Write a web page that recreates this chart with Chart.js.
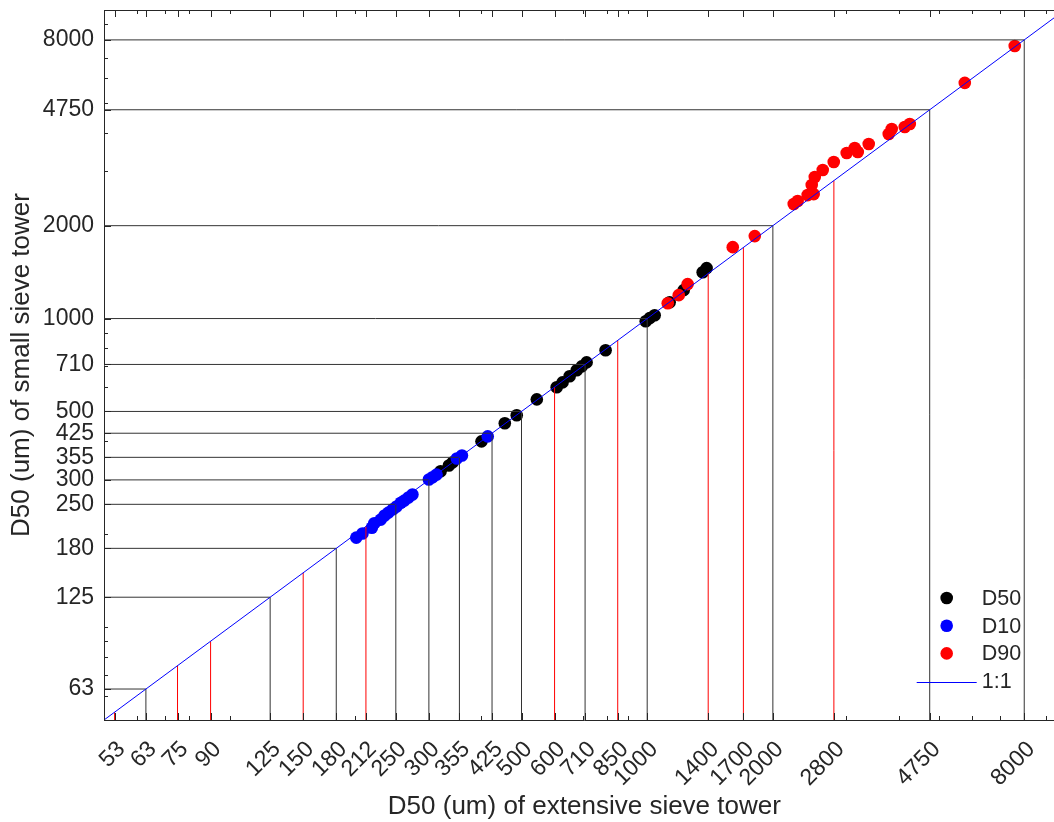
<!DOCTYPE html>
<html>
<head>
<meta charset="utf-8">
<script src="https://cdn.jsdelivr.net/npm/chart.js@4.4.1/dist/chart.umd.min.js"></script>
<style>
  html, body { margin: 0; padding: 0; background: #fff; overflow: hidden; }
  #wrap { width: 1054px; height: 822px; overflow: hidden; }
</style>
</head>
<body>
<div id="wrap"><canvas id="chart" width="1066" height="822"></canvas></div>
<script>
// sieve sizes (um)
const xTickValues = [53, 63, 75, 90, 125, 150, 180, 212, 250, 300, 355, 425, 500, 600, 710, 850, 1000, 1400, 1700, 2000, 2800, 4750, 8000];
const yTickValues = [63, 125, 180, 250, 300, 355, 425, 500, 710, 1000, 2000, 4750, 8000];
// sieves only in the extensive tower -> red guide lines
const extraSieves = [53, 75, 90, 150, 212, 600, 850, 1400, 1700, 2800];

// D50 results: extensive tower (x) vs small tower (y)
const d50Ext   = [320, 335, 342, 401, 456, 487, 544, 607, 627, 652, 678, 697, 716, 795, 992, 1014, 1042, 1132, 1223, 1358, 1388];
const d50Small = [320, 334, 342, 400, 458, 486, 547, 599, 621, 650, 680, 700, 721, 789, 980, 1003, 1025, 1130, 1236, 1413, 1457];

const d10Ext   = [201, 208, 219, 222, 230, 235, 240, 246, 251, 257, 262, 268, 274, 300, 306, 313, 350, 360, 415];
const d10Small = [195, 201, 210, 217, 223, 230, 235, 241, 246, 253, 257, 263, 269, 301, 306, 312, 352, 360, 415];

const d90Ext   = [1120, 1190, 1250, 1603, 1810, 2244, 2293, 2423, 2505, 2478, 2520, 2633, 2798, 3005, 3141, 3194, 3393, 3789, 3852, 4139, 4255, 5764, 7592];
const d90Small = [1121, 1191, 1293, 1704, 1850, 2350, 2403, 2513, 2531, 2708, 2875, 3029, 3216, 3439, 3570, 3465, 3678, 3964, 4115, 4177, 4271, 5805, 7648];

const axisMin = 50;
const axisMax = 10000;
// the original figure is cropped: the axes box ends just past the right edge
const plotRight = 1065;

const FONT = "'Liberation Sans', Arial, Helvetica, sans-serif";
const TXT = '#262626';

function pairs(xs, ys) {
  return xs.map((x, i) => ({ x: x, y: ys[i] }));
}

function pointSet(label, xs, ys, color, order) {
  return {
    label: label, data: pairs(xs, ys), showLine: false, inLegend: true,
    pointRadius: 6.3, pointHoverRadius: 6.3, pointBorderWidth: 0,
    backgroundColor: color, borderColor: color, order: order
  };
}

function guide(points, color) {
  return {
    label: 'guide', data: points, showLine: true, pointRadius: 0,
    borderColor: color, borderWidth: 1, order: 5
  };
}

function buildDatasets() {
  const datasets = [
    pointSet('D50', d50Ext, d50Small, '#000000', 10),
    pointSet('D10', d10Ext, d10Small, '#0000ff', 9),
    pointSet('D90', d90Ext, d90Small, '#ff0000', 8)
  ];
  // horizontal guides: axis -> 1:1 line
  yTickValues.forEach(v => datasets.push(guide([{ x: axisMin, y: v }, { x: v, y: v }], '#333333')));
  // vertical guides: axis -> 1:1 line
  xTickValues.forEach(v => {
    const c = extraSieves.includes(v) ? '#ff0000' : '#333333';
    datasets.push(guide([{ x: v, y: axisMin }, { x: v, y: v }], c));
  });
  datasets.push({
    label: '1:1', data: [{ x: axisMin, y: axisMin }, { x: axisMax, y: axisMax }],
    showLine: true, pointRadius: 0, borderColor: '#0000ff', borderWidth: 1,
    inLegend: true, order: 1
  });
  return datasets;
}

// inward tick marks and top frame line (MATLAB style box)
const frameTicks = {
  id: 'frameTicks',
  afterDatasetsDraw(chart) {
    const { ctx, chartArea: a, scales: { x, y } } = chart;
    const minors = [];
    [10, 100, 1000, 10000].forEach(d => {
      for (let k = 1; k <= 9; k++) {
        const v = k * d;
        if (v >= axisMin && v <= axisMax) minors.push(v);
      }
    });
    ctx.save();
    ctx.strokeStyle = TXT;
    ctx.lineWidth = 1;
    ctx.beginPath();
    ctx.moveTo(a.left, Math.round(a.top) + 0.5);
    ctx.lineTo(a.right, Math.round(a.top) + 0.5);
    const vt = (v, len) => {
      const px = Math.round(x.getPixelForValue(v)) + 0.5;
      ctx.moveTo(px, a.bottom); ctx.lineTo(px, a.bottom - len);
      ctx.moveTo(px, a.top); ctx.lineTo(px, a.top + len);
    };
    const ht = (v, len) => {
      const py = Math.round(y.getPixelForValue(v)) + 0.5;
      ctx.moveTo(a.left, py); ctx.lineTo(a.left + len, py);
      ctx.moveTo(a.right, py); ctx.lineTo(a.right - len, py);
    };
    minors.forEach(v => { vt(v, 4); ht(v, 4); });
    xTickValues.forEach(v => vt(v, 7));
    yTickValues.forEach(v => ht(v, 7));
    ctx.stroke();
    ctx.restore();
  }
};

// legend placed inside the lower right corner of the axes
const insideLegend = {
  id: 'insideLegend',
  afterDraw(chart) {
    const { ctx, chartArea: a } = chart;
    const items = chart.data.datasets.filter(d => d.inLegend);
    ctx.save();
    ctx.font = '21.5px ' + FONT;
    ctx.textBaseline = 'middle';
    ctx.textAlign = 'left';
    let yy = a.bottom - 122;
    items.forEach(d => {
      if (d.showLine) {
        ctx.strokeStyle = d.borderColor;
        ctx.lineWidth = 1;
        ctx.beginPath();
        ctx.moveTo(a.right - 148, Math.round(yy + 1) + 0.5);
        ctx.lineTo(a.right - 88, Math.round(yy + 1) + 0.5);
        ctx.stroke();
      } else {
        ctx.fillStyle = d.backgroundColor;
        ctx.beginPath();
        ctx.arc(a.right - 118, yy, 6.3, 0, Math.PI * 2);
        ctx.fill();
      }
      ctx.fillStyle = TXT;
      ctx.fillText(d.label, a.right - 83, yy + 1);
      yy += 27.7;
    });
    ctx.restore();
  }
};

function makeChart(canvas) {
  return new Chart(canvas.getContext('2d'), {
    type: 'scatter',
    data: { datasets: buildDatasets() },
    options: {
      responsive: false,
      animation: false,
      events: [],
      layout: { padding: { top: 10, right: 0, left: 0, bottom: 0 } },
      plugins: { legend: { display: false }, tooltip: { enabled: false } },
      scales: {
        x: {
          type: 'logarithmic', min: axisMin, max: axisMax,
          afterBuildTicks: s => { s.ticks = xTickValues.map(v => ({ value: v })); },
          afterFit: s => { s.height = 102; s.paddingLeft = 0; s.paddingRight = 0; },
          grid: { drawOnChartArea: false, drawTicks: false },
          border: { display: true, color: TXT, width: 1 },
          ticks: {
            autoSkip: false, minRotation: 45, maxRotation: 45, padding: 16, labelOffset: 7,
            color: TXT, font: { family: FONT, size: 23 },
            callback: v => String(v)
          },
          title: {
            display: true, text: 'D50 (um) of extensive sieve tower',
            color: TXT, font: { family: FONT, size: 26 }, padding: { top: 0, bottom: 0 }
          }
        },
        y: {
          type: 'logarithmic', min: axisMin, max: axisMax,
          afterBuildTicks: s => { s.ticks = yTickValues.map(v => ({ value: v })); },
          afterFit: s => { s.width = 104; s.paddingTop = 0; s.paddingBottom = 0; },
          grid: { drawOnChartArea: false, drawTicks: false },
          border: { display: true, color: TXT, width: 1 },
          ticks: {
            autoSkip: false, padding: 10,
            color: TXT, font: { family: FONT, size: 23 },
            callback: v => String(v)
          },
          title: {
            display: true, text: 'D50 (um) of small sieve tower',
            color: TXT, font: { family: FONT, size: 26 }, padding: { top: 6, bottom: 0 }
          }
        }
      }
    },
    plugins: [frameTicks, insideLegend]
  });
}

const canvas = document.getElementById('chart');
let chart = makeChart(canvas);
// widen the canvas until the axes box reaches plotRight
const missing = Math.round(plotRight - chart.chartArea.right);
if (missing !== 0) {
  const w = canvas.width + missing;
  chart.destroy();
  canvas.width = w;
  canvas.height = 822;
  canvas.style.width = w + 'px';
  canvas.style.height = '822px';
  chart = makeChart(canvas);
}
</script>
</body>
</html>
